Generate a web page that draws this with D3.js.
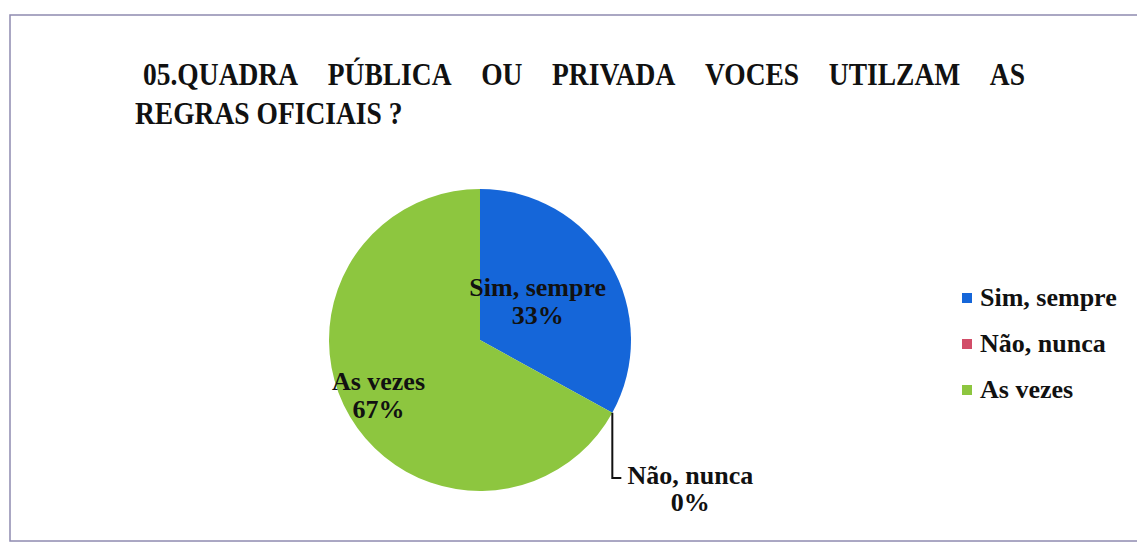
<!DOCTYPE html>
<html>
<head>
<meta charset="utf-8">
<script src="https://cdn.jsdelivr.net/npm/d3@7"></script>
<style>
  body { margin: 0; background: #fff; }
  text { font-family: "Liberation Serif", "Times New Roman", serif; font-weight: bold; fill: #111; }
</style>
</head>
<body>
<div class="visHolder"></div>
<script>
// Chart data
const categories = ["Sim, sempre", "Não, nunca", "As vezes"];
const values = [33, 0, 67];
const percentLabels = ["33%", "0%", "67%"];
const colors = ["#1566d9", "#d24d68", "#8dc63f"];
const titleLines = ["05.QUADRA PÚBLICA OU PRIVADA VOCES UTILZAM AS", "REGRAS OFICIAIS ?"];

const width = 1137, height = 543;

const svg = d3.select(".visHolder").append("svg")
    .attr("width", width)
    .attr("height", height);

// Outer frame
svg.append("rect")
    .attr("x", 10).attr("y", 15)
    .attr("width", 1140).attr("height", 526)
    .attr("fill", "none")
    .attr("stroke", "#8f8bb0")
    .attr("stroke-width", 1.5);

// Title, first line justified word by word (condensed like the scan)
const sx = 0.86;
const title = svg.append("g").attr("transform", `scale(${sx},1)`);
const words = titleLines[0].split(" ");
const left = 143 / sx, right = 1025 / sx;
const wordNodes = words.map(w => title.append("text")
    .attr("y", 85)
    .style("font-size", "32px")
    .text(w));
const widths = wordNodes.map(n => n.node().getComputedTextLength());
const gap = (right - left - d3.sum(widths)) / (words.length - 1);
let cx = left;
wordNodes.forEach((n, i) => { n.attr("x", cx); cx += widths[i] + gap; });

title.append("text")
    .attr("x", 135 / sx)
    .attr("y", 124)
    .style("font-size", "32px")
    .text(titleLines[1]);

// Pie
const center = [480, 340], radius = 151;
const pie = d3.pie().sort(null).value(d => d);
const arcs = pie(values);
const arc = d3.arc().innerRadius(0).outerRadius(radius);

const g = svg.append("g").attr("transform", `translate(${center[0]},${center[1]})`);

g.selectAll("path")
    .data(arcs)
    .enter()
    .append("path")
    .attr("d", arc)
    .attr("fill", (d, i) => colors[i]);

// Labels inside slices
const labelRadius = [67, 0, 118];
arcs.forEach((d, i) => {
    if (d.value === 0) return;
    const la = d3.arc().innerRadius(labelRadius[i]).outerRadius(labelRadius[i]);
    const [lx, ly] = la.centroid(d);
    const t = g.append("text")
        .attr("text-anchor", "middle")
        .style("font-size", "26px");
    t.append("tspan").attr("x", lx).attr("y", ly - 10).text(categories[i]);
    t.append("tspan").attr("x", lx).attr("y", ly + 18).text(percentLabels[i]);
});

// Zero slice: leader line and label outside
arcs.forEach((d, i) => {
    if (d.value !== 0) return;
    const a = d.startAngle;
    const px = Math.sin(a) * radius, py = -Math.cos(a) * radius;
    const endY = 138;
    g.append("path")
        .attr("d", `M${px},${py}V${endY}H${px + 9}`)
        .attr("fill", "none")
        .attr("stroke", "#111")
        .attr("stroke-width", 2);
    const t = g.append("text")
        .attr("text-anchor", "middle")
        .style("font-size", "26px");
    t.append("tspan").attr("x", px + 78).attr("y", endY + 6).text(categories[i]);
    t.append("tspan").attr("x", px + 78).attr("y", endY + 33).text(percentLabels[i]);
});

// Legend
const legend = svg.append("g").attr("transform", "translate(962,298)");
const rows = legend.selectAll("g")
    .data(categories)
    .enter()
    .append("g")
    .attr("transform", (d, i) => `translate(0,${i * 46})`);
rows.append("rect")
    .attr("x", 0).attr("y", -5)
    .attr("width", 10).attr("height", 10)
    .attr("fill", (d, i) => colors[i]);
rows.append("text")
    .attr("x", 18).attr("y", 8)
    .style("font-size", "26px")
    .text(d => d);
</script>
</body>
</html>
